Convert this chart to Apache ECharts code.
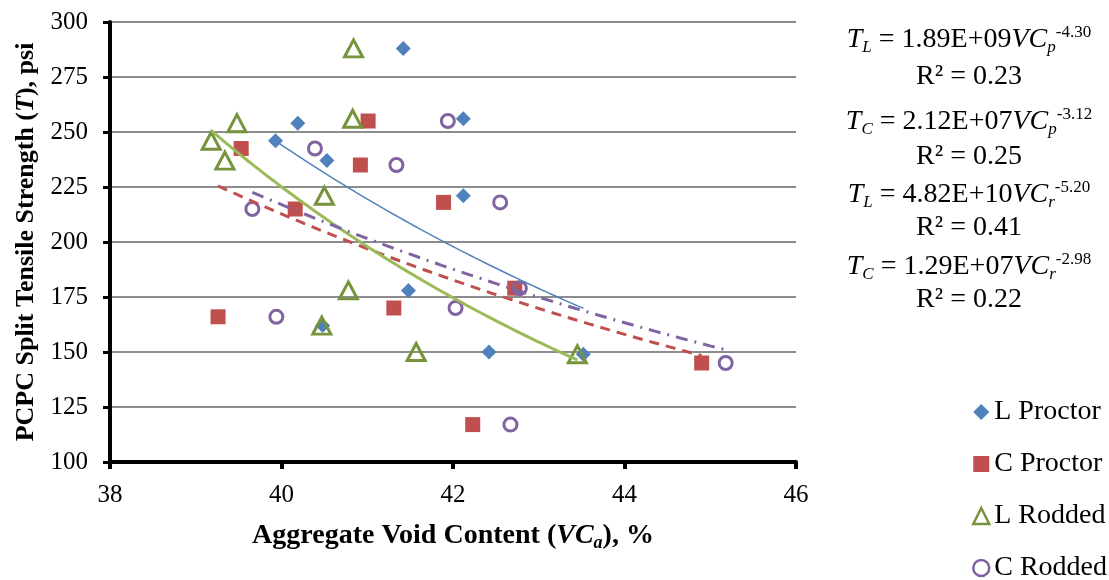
<!DOCTYPE html>
<html>
<head>
<meta charset="utf-8">
<script src="https://cdn.jsdelivr.net/npm/echarts@6/dist/echarts.min.js"></script>
<style>
  html, body { margin: 0; padding: 0; background: #fff; }
  #chart { width: 1109px; height: 580px; }
</style>
</head>
<body>
<div id="chart"></div>
<script>
// Split tensile strength (psi) of each specimen group, shared by both void measures
const lStrength = [288, 256, 254, 246, 237, 221, 178, 162, 150, 149];
const cStrength = [255, 242.5, 235, 218, 215, 179, 170, 166, 145, 117];

// Aggregate void content (%) for each specimen, Proctor vs rodded measure
const lProctorVC = [41.42, 42.12, 40.19, 39.93, 40.53, 42.12, 41.48, 40.48, 42.42, 43.52];
const cProctorVC = [41.01, 39.53, 40.92, 41.89, 40.16, 42.72, 41.31, 39.26, 44.90, 42.23];
const lRoddedVC  = [40.84, 40.83, 39.48, 39.18, 39.34, 40.50, 40.78, 40.47, 41.57, 43.45];
const cRoddedVC  = [41.94, 40.39, 41.34, 42.55, 39.66, 42.78, 42.03, 39.94, 45.18, 42.67];

const seriesNames = ['L Proctor', 'C Proctor', 'L Rodded', 'C Rodded'];

// Power trend lines T = a * VC^b, as printed beside the plot
const trendCoefText = ['1.89E+09', '2.12E+07', '4.82E+10', '1.29E+07'];
const trendExpText  = ['-4.30', '-3.12', '-5.20', '-2.98'];
const trendRSquared = ['0.23', '0.25', '0.41', '0.22'];
const trendTSub     = ['L', 'C', 'L', 'C'];
const trendVCSub    = ['p', 'p', 'r', 'r'];

const FONT = 'Liberation Serif';
const pair = (xs, ys) => xs.map((x, i) => [x, ys[i]]);

const pointSets = [
  pair(lProctorVC, lStrength),
  pair(cProctorVC, cStrength),
  pair(lRoddedVC, lStrength),
  pair(cRoddedVC, cStrength)
];

function trendCurve(k) {
  const xs = pointSets[k].map(p => p[0]);
  const lo = Math.min(...xs), hi = Math.max(...xs);
  const a = Number(trendCoefText[k]), b = Number(trendExpText[k]);
  const out = [];
  const n = 60;
  for (let i = 0; i <= n; i++) {
    const x = lo + (hi - lo) * i / n;
    out.push([x, a * Math.pow(x, b)]);
  }
  return out;
}

const markerStyles = [
  { symbol: 'diamond',  symbolSize: 15, itemStyle: { color: '#4F81BD', opacity: 1 } },
  { symbol: 'rect',     symbolSize: 15, itemStyle: { color: '#C0504D', opacity: 1 } },
  { symbol: 'triangle', symbolSize: [18, 17], itemStyle: { color: 'rgba(0,0,0,0)', borderColor: '#77933C', borderWidth: 3, opacity: 1 } },
  { symbol: 'circle',   symbolSize: 13, itemStyle: { color: 'rgba(0,0,0,0)', borderColor: '#8064A2', borderWidth: 3, opacity: 1 } }
];

const trendStyles = [
  { color: '#4F81BD', width: 1.5, type: 'solid' },
  { color: '#C0504D', width: 3, type: [10, 7] },
  { color: '#9BBB59', width: 3, type: 'solid' },
  { color: '#8064A2', width: 3, type: [12, 7, 2, 7] }
];

const scatterSeries = seriesNames.map((name, k) => Object.assign({
  name: name,
  type: 'scatter',
  data: pointSets[k],
  z: 3
}, markerStyles[k]));

const trendSeries = seriesNames.map((name, k) => ({
  name: name + ' trend',
  type: 'line',
  data: trendCurve(k),
  showSymbol: false,
  silent: true,
  lineStyle: trendStyles[k],
  z: 4
}));

// Equation block
const EQ = 28;
const eqRich = {
  n:   { fontFamily: FONT, fontSize: EQ, lineHeight: 32, color: '#000', verticalAlign: 'middle' },
  i:   { fontFamily: FONT, fontSize: EQ, lineHeight: 32, color: '#000', fontStyle: 'italic', verticalAlign: 'middle' },
  sub: { fontFamily: FONT, fontSize: 17, lineHeight: 14, color: '#000', fontStyle: 'italic', verticalAlign: 'bottom' },
  sup: { fontFamily: FONT, fontSize: 17, lineHeight: 16, color: '#000', verticalAlign: 'top' }
};
const eqY = [40, 122, 195, 267];
const r2Y = [77, 157, 228, 300];
const eqGraphics = [];
trendCoefText.forEach((c, k) => {
  eqGraphics.push({
    type: 'text', x: 969, y: eqY[k],
    style: {
      text: `{i|T}{sub|${trendTSub[k]}}{n| = ${c}}{i|VC}{sub|${trendVCSub[k]}}{sup|${trendExpText[k]}}`,
      rich: eqRich, align: 'center', verticalAlign: 'middle',
      textAlign: 'center', textVerticalAlign: 'middle'
    }
  });
  eqGraphics.push({
    type: 'text', x: 969, y: r2Y[k],
    style: {
      text: `{n|R² = ${trendRSquared[k]}}`,
      rich: eqRich, align: 'center', verticalAlign: 'middle',
      textAlign: 'center', textVerticalAlign: 'middle'
    }
  });
});

const chart = echarts.init(document.getElementById('chart'), null, { renderer: 'canvas' });
chart.setOption({
  backgroundColor: '#fff',
  animation: false,
  grid: { left: 110, right: 313, top: 22, bottom: 118, containLabel: false },
  xAxis: {
    type: 'value', min: 38, max: 46, interval: 2,
    axisLine: { show: true, onZero: false, lineStyle: { color: '#000', width: 4 } },
    axisTick: { show: true, length: 7, lineStyle: { color: '#000', width: 4 } },
    axisLabel: { fontFamily: FONT, fontSize: 25, color: '#000', margin: 21 },
    splitLine: { show: false },
    name: '{b|Aggregate Void Content (}{bi|VC}{bs|a}{b|), %}',
    nameLocation: 'middle', nameGap: 58,
    nameTextStyle: {
      rich: {
        b:  { fontFamily: FONT, fontSize: 28, fontWeight: 'bold', color: '#000', lineHeight: 32, verticalAlign: 'middle' },
        bi: { fontFamily: FONT, fontSize: 28, fontWeight: 'bold', fontStyle: 'italic', color: '#000', lineHeight: 32, verticalAlign: 'middle' },
        bs: { fontFamily: FONT, fontSize: 18, fontWeight: 'bold', fontStyle: 'italic', color: '#000', lineHeight: 14, verticalAlign: 'bottom' }
      }
    }
  },
  yAxis: {
    type: 'value', min: 100, max: 300, interval: 25,
    axisLine: { show: true, onZero: false, lineStyle: { color: '#000', width: 4 } },
    axisTick: { show: true, length: 7, lineStyle: { color: '#000', width: 3 } },
    axisLabel: { fontFamily: FONT, fontSize: 25, color: '#000', margin: 22 },
    splitLine: { show: true, lineStyle: { color: '#8C8C8C', width: 2 } },
    name: '{b|PCPC Split Tensile Strength (}{bi|T}{b|), psi}',
    nameLocation: 'middle', nameRotate: 90, nameGap: 69,
    nameTextStyle: {
      rich: {
        b:  { fontFamily: FONT, fontSize: 26, fontWeight: 'bold', color: '#000' },
        bi: { fontFamily: FONT, fontSize: 26, fontWeight: 'bold', fontStyle: 'italic', color: '#000' }
      }
    }
  },
  legend: {
    data: seriesNames,
    orient: 'vertical',
    left: 972, top: 398, height: 260, padding: 0,
    itemWidth: 16, itemHeight: 16, itemGap: 24,
    itemStyle: { borderWidth: 2.5 },
    textStyle: { fontFamily: FONT, fontSize: 28, color: '#000', lineHeight: 28 }
  },
  graphic: eqGraphics,
  series: scatterSeries.concat(trendSeries)
});
</script>
</body>
</html>
